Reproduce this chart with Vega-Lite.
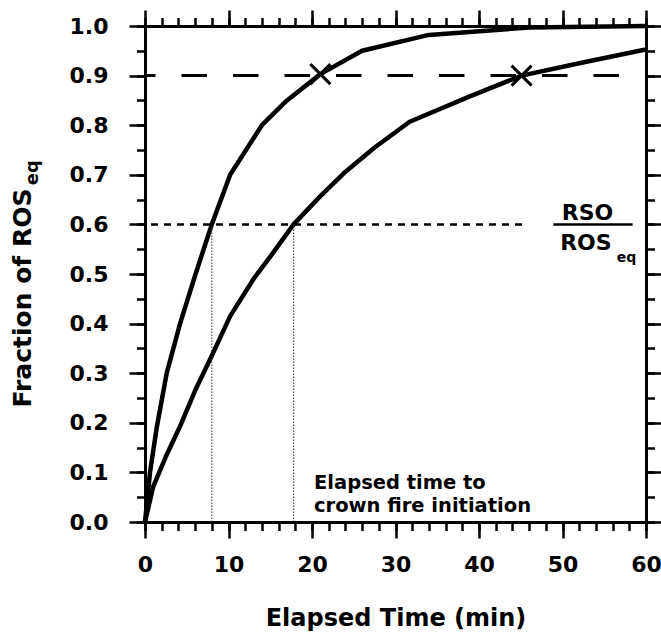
{
  "$schema": "https://vega.github.io/schema/vega-lite/v6.json",
  "width": 501,
  "height": 496,
  "autosize": {"type": "none"},
  "padding": {"left": 145, "top": 26, "right": 15, "bottom": 111},
  "background": "white",
  "config": {
    "view": {"stroke": null},
    "axis": {
      "grid": false,
      "domainColor": "black",
      "domainWidth": 3,
      "tickColor": "black",
      "tickWidth": 2.5,
      "labelFont": "DejaVu Sans",
      "labelFontWeight": "bold",
      "labelFontSize": 22,
      "labelColor": "black",
      "labelFlush": false,
      "labelOverlap": false,
      "labelBound": false,
      "titleFont": "DejaVu Sans",
      "titleFontWeight": "bold",
      "titleColor": "black"
    },
    "text": {"font": "DejaVu Sans", "fontWeight": "bold", "color": "black"}
  },
  "datasets": {
    "curves": [
      {"curve": "fast", "t": 0, "f": 0},
      {"curve": "fast", "t": 0.6, "f": 0.1},
      {"curve": "fast", "t": 1.4, "f": 0.19},
      {"curve": "fast", "t": 2.6, "f": 0.3},
      {"curve": "fast", "t": 4.2, "f": 0.4},
      {"curve": "fast", "t": 6.0, "f": 0.497},
      {"curve": "fast", "t": 8.0, "f": 0.6},
      {"curve": "fast", "t": 10.2, "f": 0.7},
      {"curve": "fast", "t": 14.0, "f": 0.8},
      {"curve": "fast", "t": 17.0, "f": 0.85},
      {"curve": "fast", "t": 21.0, "f": 0.903},
      {"curve": "fast", "t": 26.0, "f": 0.95},
      {"curve": "fast", "t": 34.0, "f": 0.982},
      {"curve": "fast", "t": 46.0, "f": 0.997},
      {"curve": "fast", "t": 60.0, "f": 1.0},
      {"curve": "slow", "t": 0, "f": 0},
      {"curve": "slow", "t": 1.0, "f": 0.072},
      {"curve": "slow", "t": 2.5, "f": 0.132},
      {"curve": "slow", "t": 4.2, "f": 0.193},
      {"curve": "slow", "t": 6.0, "f": 0.265},
      {"curve": "slow", "t": 8.0, "f": 0.335},
      {"curve": "slow", "t": 10.2, "f": 0.415},
      {"curve": "slow", "t": 13.0, "f": 0.49},
      {"curve": "slow", "t": 15.0, "f": 0.535},
      {"curve": "slow", "t": 17.8, "f": 0.6},
      {"curve": "slow", "t": 21.0, "f": 0.657},
      {"curve": "slow", "t": 23.8, "f": 0.703},
      {"curve": "slow", "t": 27.5, "f": 0.755},
      {"curve": "slow", "t": 31.7, "f": 0.807},
      {"curve": "slow", "t": 38.9, "f": 0.858},
      {"curve": "slow", "t": 45.1, "f": 0.9},
      {"curve": "slow", "t": 52.0, "f": 0.925},
      {"curve": "slow", "t": 59.8, "f": 0.952}
    ],
    "crossings": [
      {"curve": "fast", "t": 21.0, "f": 0.903},
      {"curve": "slow", "t": 45.1, "f": 0.9}
    ]
  },
  "layer": [
    {
      "data": {"name": "curves"},
      "mark": {"type": "line", "color": "black", "strokeWidth": 4.5, "strokeCap": "round", "strokeJoin": "round"},
      "encoding": {
        "x": {"field": "t", "type": "quantitative", "scale": {"domain": [0, 60], "nice": false, "zero": false},
          "axis": {"orient": "bottom", "values": [0, 10, 20, 30, 40, 50, 60], "tickSize": 16, "labelPadding": 16, "labelAngle": 0,
            "title": "Elapsed Time (min)", "titleFontSize": 24, "titleBaseline": "alphabetic", "titleY": 103}},
        "y": {"field": "f", "type": "quantitative", "scale": {"domain": [0, 1], "nice": false, "zero": false},
          "axis": {"orient": "left", "values": [0, 0.1, 0.2, 0.3, 0.4, 0.5, 0.6, 0.7, 0.8, 0.9, 1.0], "format": ".1f", "tickSize": 16, "labelPadding": 21,
            "title": "Fraction of ROS", "titleFontSize": 25, "titleAngle": 270, "titleAlign": "left", "titleBaseline": "alphabetic", "titleX": -115, "titleY": 381}},
        "detail": {"field": "curve", "type": "nominal"}
      }
    },
    {
      "data": {"values": [{"level": 0.9, "from": 0, "to": 60}]},
      "mark": {"type": "rule", "color": "black", "strokeWidth": 3, "strokeDash": [25.5, 26], "strokeDashOffset": 15},
      "encoding": {
        "x": {"field": "from", "type": "quantitative", "scale": {"domain": [0, 60], "nice": false, "zero": false},
          "axis": {"orient": "bottom", "values": [0, 2, 4, 6, 8, 10, 12, 14, 16, 18, 20, 22, 24, 26, 28, 30, 32, 34, 36, 38, 40, 42, 44, 46, 48, 50, 52, 54, 56, 58, 60], "tickSize": 8.5, "labels": false, "title": null}},
        "x2": {"field": "to"},
        "y": {"field": "level", "type": "quantitative", "scale": {"domain": [0, 1], "nice": false, "zero": false},
          "axis": {"orient": "left", "values": [0, 0.05, 0.1, 0.15, 0.2, 0.25, 0.3, 0.35, 0.4, 0.45, 0.5, 0.55, 0.6, 0.65, 0.7, 0.75, 0.8, 0.85, 0.9, 0.95, 1.0], "tickSize": 8.5, "labels": false, "title": null}}
      }
    },
    {
      "data": {"values": [{"level": 0.6, "from": 0, "to": 45.2}]},
      "mark": {"type": "rule", "color": "black", "strokeWidth": 2.5, "strokeDash": [7, 6], "strokeDashOffset": 7},
      "encoding": {
        "x": {"field": "from", "type": "quantitative", "scale": {"domain": [0, 60], "nice": false, "zero": false},
          "axis": {"orient": "top", "values": [0, 10, 20, 30, 40, 50, 60], "tickSize": 16, "labels": false, "title": null}},
        "x2": {"field": "to"},
        "y": {"field": "level", "type": "quantitative", "scale": {"domain": [0, 1], "nice": false, "zero": false},
          "axis": {"orient": "right", "values": [0, 0.1, 0.2, 0.3, 0.4, 0.5, 0.6, 0.7, 0.8, 0.9, 1.0], "tickSize": 16, "labels": false, "title": null}}
      }
    },
    {
      "data": {"values": [{"t": 8.0, "lo": 0, "hi": 0.6}, {"t": 17.8, "lo": 0, "hi": 0.6}]},
      "mark": {"type": "rule", "color": "#333333", "strokeWidth": 1, "strokeDash": [1.5, 1.5]},
      "encoding": {
        "x": {"field": "t", "type": "quantitative", "scale": {"domain": [0, 60], "nice": false, "zero": false},
          "axis": {"orient": "top", "values": [0, 2, 4, 6, 8, 10, 12, 14, 16, 18, 20, 22, 24, 26, 28, 30, 32, 34, 36, 38, 40, 42, 44, 46, 48, 50, 52, 54, 56, 58, 60], "tickSize": 8.5, "labels": false, "title": null}},
        "y": {"field": "lo", "type": "quantitative", "scale": {"domain": [0, 1], "nice": false, "zero": false},
          "axis": {"orient": "right", "values": [0, 0.05, 0.1, 0.15, 0.2, 0.25, 0.3, 0.35, 0.4, 0.45, 0.5, 0.55, 0.6, 0.65, 0.7, 0.75, 0.8, 0.85, 0.9, 0.95, 1.0], "tickSize": 8.5, "labels": false, "title": null}},
        "y2": {"field": "hi"}
      }
    },
    {
      "data": {"values": [{"level": 0.6, "from": 48.9, "to": 58.4}]},
      "mark": {"type": "rule", "color": "black", "strokeWidth": 2.5},
      "encoding": {
        "x": {"field": "from", "type": "quantitative", "scale": {"domain": [0, 60], "nice": false, "zero": false}, "axis": null},
        "x2": {"field": "to"},
        "y": {"field": "level", "type": "quantitative", "scale": {"domain": [0, 1], "nice": false, "zero": false}, "axis": null}
      }
    },
    {
      "data": {"name": "crossings"},
      "mark": {"type": "point", "shape": "M-1,-1L1,1M-1,1L1,-1", "filled": false, "stroke": "black", "strokeWidth": 3, "size": 400, "opacity": 1},
      "encoding": {
        "x": {"field": "t", "type": "quantitative", "scale": {"domain": [0, 60], "nice": false, "zero": false}, "axis": null},
        "y": {"field": "f", "type": "quantitative", "scale": {"domain": [0, 1], "nice": false, "zero": false}, "axis": null}
      }
    },
    {
      "data": {"values": [{"label": "Elapsed time to\ncrown fire initiation", "t": 20.24, "f": 0.0665}]},
      "mark": {"type": "text", "fontSize": 19.5, "align": "left", "baseline": "alphabetic", "lineBreak": "\n", "lineHeight": 23},
      "encoding": {
        "x": {"field": "t", "type": "quantitative", "scale": {"domain": [0, 60], "nice": false, "zero": false}, "axis": null},
        "y": {"field": "f", "type": "quantitative", "scale": {"domain": [0, 1], "nice": false, "zero": false}, "axis": null},
        "text": {"field": "label"}
      }
    },
    {
      "data": {"values": [{"label": "RSO", "t": 53.0, "f": 0.609}, {"label": "ROS", "t": 52.8, "f": 0.548}]},
      "mark": {"type": "text", "fontSize": 22, "align": "center", "baseline": "alphabetic"},
      "encoding": {
        "x": {"field": "t", "type": "quantitative", "scale": {"domain": [0, 60], "nice": false, "zero": false}, "axis": null},
        "y": {"field": "f", "type": "quantitative", "scale": {"domain": [0, 1], "nice": false, "zero": false}, "axis": null},
        "text": {"field": "label"}
      }
    },
    {
      "data": {"values": [{"label": "eq", "t": 56.5, "f": 0.524}]},
      "mark": {"type": "text", "fontSize": 14, "align": "left", "baseline": "alphabetic"},
      "encoding": {
        "x": {"field": "t", "type": "quantitative", "scale": {"domain": [0, 60], "nice": false, "zero": false}, "axis": null},
        "y": {"field": "f", "type": "quantitative", "scale": {"domain": [0, 1], "nice": false, "zero": false}, "axis": null},
        "text": {"field": "label"}
      }
    },
    {
      "data": {"values": [{"label": "eq", "t": -12.8, "f": 0.679}]},
      "mark": {"type": "text", "fontSize": 18, "align": "left", "baseline": "alphabetic", "angle": 270},
      "encoding": {
        "x": {"field": "t", "type": "quantitative", "scale": {"domain": [0, 60], "nice": false, "zero": false}, "axis": null},
        "y": {"field": "f", "type": "quantitative", "scale": {"domain": [0, 1], "nice": false, "zero": false}, "axis": null},
        "text": {"field": "label"}
      }
    }
  ],
  "resolve": {"axis": {"x": "independent", "y": "independent"}}
}
